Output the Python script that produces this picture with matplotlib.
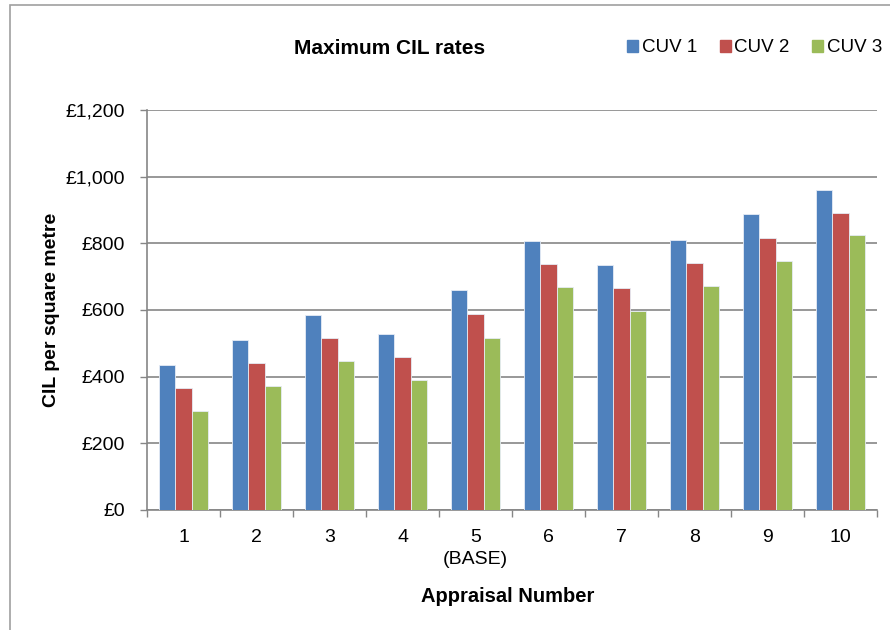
import numpy as np
import matplotlib
matplotlib.use('Agg')
import matplotlib.pyplot as plt
import matplotlib.patches as mpatches
from matplotlib.ticker import FuncFormatter

plt.rcParams['font.family'] = ['Liberation Sans', 'DejaVu Sans']

# ─────────────────────────────────────────
# DATOS
# ─────────────────────────────────────────
appraisals = ['1', '2', '3', '4', '5\n(BASE)', '6', '7', '8', '9', '10']
cuv1 = [434, 510, 584, 527, 659, 808, 736, 811, 887, 960]
cuv2 = [365, 441, 516, 458, 587, 738, 665, 741, 815, 892]
cuv3 = [296, 372, 448, 390, 515, 670, 597, 673, 748, 824]
series_names = ['CUV 1', 'CUV 2', 'CUV 3']
colores = ['#4F81BD', '#C0504D', '#9BBB59']

grid_col = '#868686'

fig = plt.figure(figsize=(8.9, 6.3), dpi=100)
ax = fig.add_axes([147 / 890, 120 / 630, 730 / 890, 400 / 630])

x = np.arange(len(appraisals))
w = 0.22
for i, (vals, col) in enumerate(zip([cuv1, cuv2, cuv3], colores)):
    ax.bar(x + (i - 1) * w, vals, width=w, color=col,
           edgecolor='#E6ECF5', linewidth=0.6, zorder=3)

ax.set_xlim(-0.5, len(appraisals) - 0.5)
ax.set_ylim(0, 1200)
ax.set_yticks(np.arange(0, 1201, 200))
ax.yaxis.set_major_formatter(FuncFormatter(lambda v, p: f'£{int(v):,}'))
ax.yaxis.grid(True, color=grid_col, linewidth=1.2, zorder=0)
ax.set_axisbelow(True)

# ticks del eje x entre categorías, etiquetas centradas
ax.set_xticks(np.arange(-0.5, len(appraisals), 1.0))
ax.set_xticklabels([])
ax.set_xticks(x, minor=True)
ax.set_xticklabels(appraisals, minor=True, fontsize=14, linespacing=1.35)
ax.tick_params(axis='x', which='major', length=5, color=grid_col, width=1)
ax.tick_params(axis='x', which='minor', length=0, pad=14)
ax.tick_params(axis='y', length=5, color=grid_col, width=1,
               labelsize=14, pad=11)

ax.spines[['top', 'right']].set_visible(False)
ax.spines[['bottom', 'left']].set_color(grid_col)
ax.spines[['bottom', 'left']].set_linewidth(1.2)

ax.set_ylabel('CIL per square metre', fontsize=14, fontweight='bold')
ax.yaxis.set_label_coords(-0.119, 0.5)
fig.text(508 / 890, 1 - 597 / 630, 'Appraisal Number', fontsize=14.5,
         fontweight='bold', ha='center', va='center')
fig.text(390 / 890, 1 - 48 / 630, 'Maximum CIL rates', fontsize=15,
         fontweight='bold', ha='center', va='center')

handles = [mpatches.Patch(color=c, label=n) for c, n in zip(colores, series_names)]
fig.legend(handles=handles, loc='center left',
           bbox_to_anchor=(627 / 890, 1 - 48 / 630), ncol=3, frameon=False,
           fontsize=13.5, handlelength=0.59, handleheight=0.59,
           handletextpad=0.2, columnspacing=1.2, borderaxespad=0,
           borderpad=0)

# marco exterior
fig.patches.append(mpatches.Rectangle((10 / 890, -0.05), 1.0, 1 - 5 / 630 + 0.05,
                                      transform=fig.transFigure, fill=False,
                                      edgecolor='#A0A0A0', linewidth=1.2))

fig.savefig('out.png', dpi=100, facecolor='white')
plt.close()
